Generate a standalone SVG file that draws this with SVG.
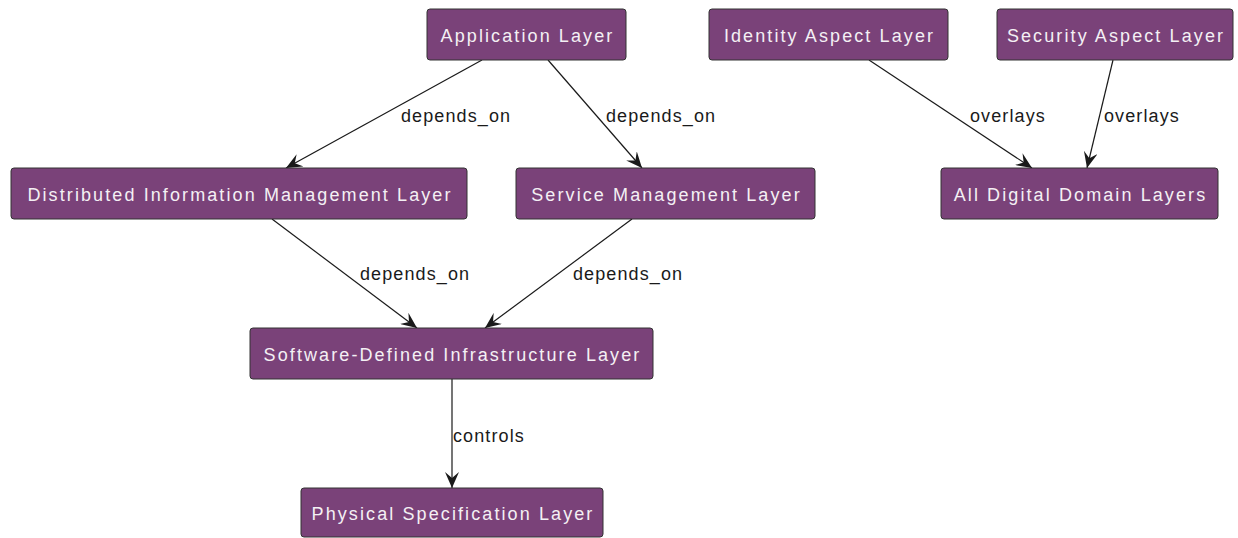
<svg xmlns="http://www.w3.org/2000/svg" width="1238" height="538" viewBox="0 0 1238 538">
  <style>
    .node rect { fill: #7a4279; stroke: #333333; stroke-width: 1; }
    .node text { fill: #f4f0f4; font-family: "Liberation Sans", Arial, sans-serif; font-size: 18px; letter-spacing: 2.1px; text-anchor: middle; }
    .edge { stroke: #1a1a1a; stroke-width: 1.2; fill: none; marker-end: url(#arrow); }
    .elabel { fill: #1a1a1a; font-family: "Liberation Sans", Arial, sans-serif; font-size: 18px; letter-spacing: 1.1px; }
  </style>
  <defs>
    <marker id="arrow" viewBox="0 0 16 14" refX="16" refY="7" markerWidth="16" markerHeight="14" markerUnits="userSpaceOnUse" orient="auto">
      <path d="M0,0 L16,7 L0,14 L6,7 z" fill="#1a1a1a"/>
    </marker>
  </defs>
  <rect width="1238" height="538" fill="#ffffff"/>

  <g id="connectors">
    <line class="edge" x1="482" y1="60" x2="286" y2="168"/>
    <line class="edge" x1="548" y1="60" x2="642" y2="168"/>
    <line class="edge" x1="272" y1="219" x2="417" y2="328"/>
    <line class="edge" x1="632" y1="219" x2="485" y2="328"/>
    <line class="edge" x1="452" y1="379" x2="452" y2="488"/>
    <line class="edge" x1="869" y1="60" x2="1032" y2="168"/>
    <line class="edge" x1="1113" y1="60" x2="1087" y2="168"/>
    <text class="elabel" x="401" y="122">depends_on</text>
    <text class="elabel" x="606" y="122">depends_on</text>
    <text class="elabel" x="360" y="280">depends_on</text>
    <text class="elabel" x="573" y="280">depends_on</text>
    <text class="elabel" x="453" y="442">controls</text>
    <text class="elabel" x="970" y="122">overlays</text>
    <text class="elabel" x="1104" y="122">overlays</text>
  </g>

  <g id="application-layer" class="node">
    <rect x="427" y="9" width="199" height="51" rx="3"/>
    <text x="527.5" y="41.5">Application Layer</text>
  </g>
  <g id="identity-aspect-layer" class="node">
    <rect x="709" y="9" width="239" height="51" rx="3"/>
    <text x="829.5" y="41.5">Identity Aspect Layer</text>
  </g>
  <g id="security-aspect-layer" class="node">
    <rect x="997" y="9" width="236" height="51" rx="3"/>
    <text x="1116" y="41.5">Security Aspect Layer</text>
  </g>
  <g id="distributed-information-management-layer" class="node">
    <rect x="11" y="168" width="456" height="51" rx="3"/>
    <text x="240" y="200.5">Distributed Information Management Layer</text>
  </g>
  <g id="service-management-layer" class="node">
    <rect x="516" y="168" width="299" height="51" rx="3"/>
    <text x="666.5" y="200.5">Service Management Layer</text>
  </g>
  <g id="all-digital-domain-layers" class="node">
    <rect x="941" y="168" width="277" height="51" rx="3"/>
    <text x="1080.5" y="200.5">All Digital Domain Layers</text>
  </g>
  <g id="software-defined-infrastructure-layer" class="node">
    <rect x="250" y="328" width="403" height="51" rx="3"/>
    <text x="452.5" y="360.5">Software-Defined Infrastructure Layer</text>
  </g>
  <g id="physical-specification-layer" class="node">
    <rect x="301" y="488" width="302" height="49" rx="3"/>
    <text x="453" y="519.5">Physical Specification Layer</text>
  </g>
</svg>
